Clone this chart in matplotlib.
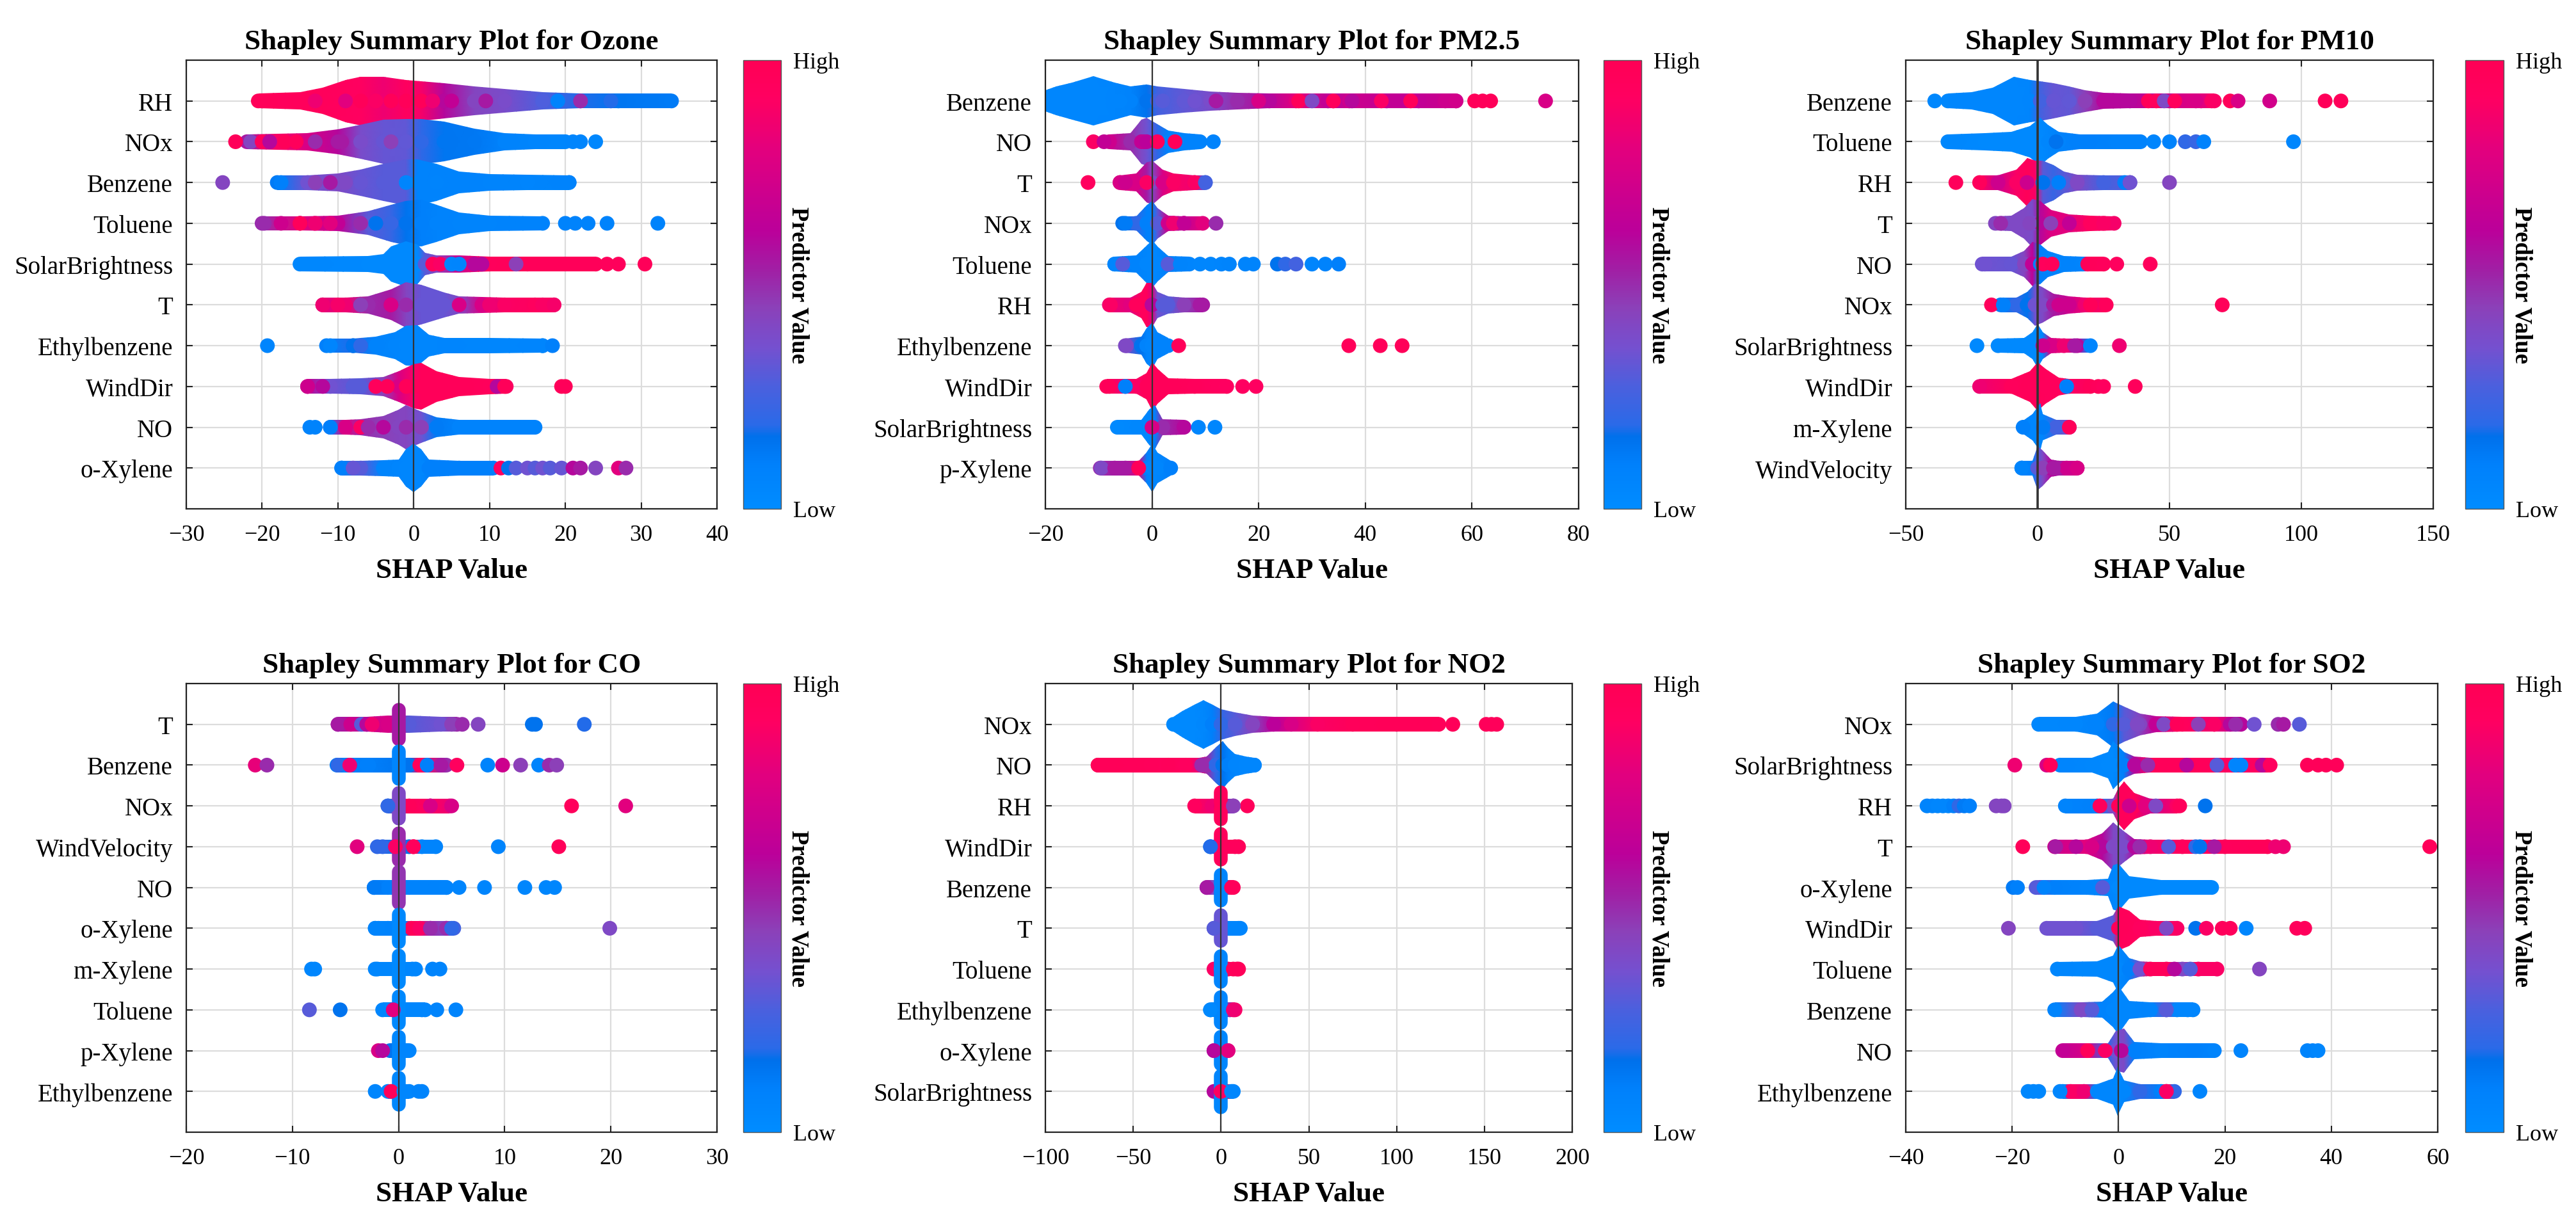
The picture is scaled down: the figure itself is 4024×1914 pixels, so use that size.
import matplotlib
matplotlib.use('Agg')
import matplotlib.pyplot as plt
import numpy as np
from matplotlib.cm import ScalarMappable
from matplotlib.colors import LinearSegmentedColormap
from matplotlib.patches import Polygon

plt.rcParams['font.family'] = ['Liberation Serif', 'DejaVu Serif']

# each row of a panel: x stops, half height of the swarm at the stop, colour value (0 low, 1 high)
# dots are the single points that stand out from the swarm
ozone_features = ['RH', 'NOx', 'Benzene', 'Toluene', 'SolarBrightness', 'T', 'Ethylbenzene', 'WindDir', 'NO', 'o-Xylene']
ozone_x = [
    [-20.5, -15, -12, -9, -7, -4, -1, 1, 4, 8, 12, 17, 22, 27, 34],
    [-22, -18, -14, -10, -7, -4, -1, 1, 4, 8, 12, 16, 20],
    [-18, -14, -10, -7, -4, -1, 0.5, 3, 6, 10, 15, 20.5],
    [-20, -15, -10, -6, -3, -1, 1, 3, 6, 10, 17],
    [-15, -6, -4, -3, -1, 0.5, 1.5, 3, 6, 10, 15, 24],
    [-12, -9, -6, -3, -1, 1, 4, 6, 9, 12, 16, 18.5],
    [-11.5, -8, -5, -2.5, -1, 0.5, 2, 4, 10, 17],
    [-14, -11, -7, -4, -2, 0, 1, 3, 6, 10, 12.2],
    [-11, -9, -7, -4, -2, -1, 1, 3, 6, 16],
    [-9.5, -7, -4, -2, -1, 0, 1, 2, 6, 10.5],
]
ozone_h = [
    [.165, .2, .3, .48, .55, .55, .48, .45, .4, .33, .27, .2, .17, .17, .165],
    [.165, .18, .2, .28, .38, .5, .52, .52, .45, .3, .2, .17, .165],
    [.165, .165, .2, .3, .42, .52, .52, .42, .25, .19, .17, .165],
    [.165, .165, .18, .27, .42, .5, .53, .42, .25, .18, .165],
    [.165, .18, .22, .4, .52, .45, .25, .2, .2, .165, .165, .165],
    [.165, .165, .2, .35, .52, .45, .28, .2, .18, .165, .165, .165],
    [.165, .165, .2, .3, .45, .47, .25, .18, .17, .165],
    [.165, .165, .18, .22, .35, .5, .53, .35, .22, .17, .165],
    [.165, .165, .18, .25, .4, .5, .35, .22, .17, .165],
    [.165, .165, .18, .2, .42, .55, .42, .2, .17, .165],
]
ozone_c = [
    [.97, .95, .95, .93, .92, .85, .93, .88, .6, .42, .38, .28, .18, .14, .12],
    [.55, .9, .75, .6, .38, .33, .32, .2, .14, .13, .08, .06, .05],
    [.12, .35, .4, .33, .3, .3, .08, .07, .08, .07, .06, .08],
    [.5, .8, .65, .3, .22, .15, .1, .08, .07, .07, .08],
    [.04, .03, .03, .03, .03, .03, .3, .42, .7, .95, .97, .97],
    [.8, .85, .5, .55, .42, .33, .33, .4, .75, .9, .93, .9],
    [.1, .18, .08, .06, .05, .05, .05, .06, .05, .06],
    [.65, .35, .3, .45, .75, .9, .97, .97, .97, .95, .9],
    [.2, .8, .5, .45, .42, .42, .35, .12, .08, .08],
    [.1, .3, .07, .06, .05, .05, .05, .1, .1, .1],
]
ozone_dots_x = [
    [-20, -17, -13, -9, -7, -5, -3, -1, 1, 2.5, 5, 9.5, 19, 22, 26],
    [-23.5, -21.5, -20, -19, -17, -15.5, -13, -10, -9.5, -3, 21, 22, 24],
    [-25.2, -17.5, -13, -11, -9, -1, 20.5],
    [-19.7, -17.5, -15, -13, -11, -7, -5, 20, 21.3, 23, 25.5, 32.2],
    [2.5, 3.5, 5, 6, 8, 9, 13.5, 25.5, 27, 30.5],
    [-12, -10, -7, -3, -1, 6, 10, 17, 18.5],
    [-19.3, -11, -8, -7, 17, 18.3],
    [-14, -12, -8, -5, -3.5, -1, 0, 1, 11, 12, 19.5, 20],
    [-13.7, -13, -11, -9, -7, -6, -4, -1, 1],
    [-9.5, -8, 11.5, 12.5, 13.5, 15, 16, 17, 18, 19.5, 21, 22, 24, 27, 28],
]
ozone_dots_c = [
    [.97, .95, .85, .8, .97, .9, .97, .97, .97, .85, .65, .55, .08, .5, .18],
    [.97, .42, .95, .6, .97, .95, .5, .55, .55, .45, .06, .06, .04],
    [.42, .1, .45, .55, .4, .06, .08],
    [.5, .7, .95, .85, .8, .5, .15, .08, .08, .08, .08, .08],
    [.95, .9, .05, .06, .6, .6, .45, .95, .95, .97],
    [.85, .88, .45, .75, .5, .75, .85, .9, .88],
    [.06, .06, .15, .2, .06, .1],
    [.7, .6, .3, .95, .97, .97, .97, .97, .6, .97, .97, .97],
    [.08, .08, .1, .75, .9, .5, .6, .5, .45],
    [.1, .33, .93, .15, .3, .35, .3, .35, .3, .33, .6, .55, .42, .8, .5],
]

pm25_features = ['Benzene', 'NO', 'T', 'NOx', 'Toluene', 'RH', 'Ethylbenzene', 'WindDir', 'SolarBrightness', 'p-Xylene']
pm25_x = [
    [-20, -18, -15, -11, -7, -4, -1, 1, 6, 11, 16, 22, 27, 34, 37, 44, 50, 57],
    [-8, -4, -2, -1, 1, 3, 6, 9],
    [-6, -3, -1, 0, 2, 4, 8, 10],
    [-5.5, -3, -1, 0, 1, 3, 6, 9.5],
    [-7, -3, -1, 0, 1, 3, 7],
    [-8, -4, -2, -1, 0, 1, 3, 6, 9.5],
    [-5, -2, -1, 0, 1, 3],
    [-8.5, -5, -3, -1, 0, 1, 3, 8, 14],
    [-6.5, -2, -0.5, 0.5, 2, 6],
    [-9.7, -5, -2.5, -1, 0, 1, 3.5],
]
pm25_h = [
    [.24, .33, .42, .56, .42, .33, .38, .33, .27, .22, .19, .165, .165, .165, .165, .165, .165, .165],
    [.165, .2, .5, .55, .4, .25, .2, .165],
    [.165, .2, .45, .5, .3, .2, .165, .165],
    [.165, .165, .4, .5, .35, .18, .165, .165],
    [.165, .2, .42, .55, .4, .18, .165],
    [.165, .165, .3, .5, .5, .3, .2, .165, .165],
    [.165, .2, .4, .52, .3, .17],
    [.165, .165, .165, .3, .55, .4, .18, .165, .165],
    [.165, .165, .4, .5, .18, .165],
    [.165, .165, .165, .35, .55, .35, .165],
]
pm25_c = [
    [.05, .05, .05, .05, .06, .08, .15, .25, .32, .38, .5, .6, .8, .6, .7, .65, .65, .7],
    [.7, .5, .4, .35, .2, .08, .08, .08],
    [.8, .75, .55, .4, .75, .9, .85, .25],
    [.15, .2, .1, .1, .3, .7, .65, .8],
    [.1, .08, .05, .05, .05, .1, .06],
    [.85, .8, .95, .95, .8, .35, .3, .45, .55],
    [.4, .15, .08, .06, .08, .08],
    [.95, .85, .9, .97, .97, .97, .97, .95, .92],
    [.03, .04, .05, .08, .5, .6],
    [.5, .55, .8, .1, .06, .05, .1],
]
pm25_dots_x = [
    [-16, -10, -6, 2, 8, 12, 20, 27.5, 30, 33, 34, 37.5, 43, 48.5, 55, 57, 60.5, 62, 63.5, 73.8],
    [-11, -9, -2, -1.5, -1, 1, 4.3, 11.5],
    [-12, -6, -5, -1, 8, 10],
    [-5, 4, 6, 12],
    [-7, -5.5, 3, 5.3, 9, 11, 13, 14.5, 17.5, 19, 23.5, 25, 27, 30, 32.5, 35],
    [-7.8, -3, 0, 2, 9],
    [-4.8, 5, 36.9, 42.8, 46.9],
    [-8, -5, 17, 19.5],
    [0, 8.7, 11.8],
    [-9.5, -7, -2.5],
]
pm25_dots_c = [
    [.05, .05, .06, .3, .35, .55, .75, .97, .4, .65, .95, .6, .9, .97, .7, .72, .97, .97, .97, .75],
    [.9, .65, .65, .65, .62, .95, .97, .08],
    [.93, .75, .7, .9, .9, .25],
    [.12, .85, .65, .5],
    [.06, .3, .3, .07, .05, .05, .06, .07, .07, .07, .15, .2, .25, .06, .08, .1],
    [.9, .95, .6, .3, .55],
    [.4, .97, .97, .97, .97],
    [.97, .1, .92, .92],
    [.75, .05, .05],
    [.4, .55, .97],
]

pm10_features = ['Benzene', 'Toluene', 'RH', 'T', 'NO', 'NOx', 'SolarBrightness', 'WindDir', 'm-Xylene', 'WindVelocity']
pm10_x = [
    [-34, -25, -17, -9, -3, 1, 6, 12, 18, 25, 35, 50, 62, 67],
    [-34, -20, -10, -3, 1, 4, 8, 16, 30, 39],
    [-22, -15, -8, -4, -1, 2, 6, 10, 15, 25, 35],
    [-16, -10, -5, -2, 1, 5, 12, 20, 29],
    [-21, -10, -5, -2, 1, 4, 10, 17, 19, 25],
    [-14, -8, -4, -1, 2, 6, 12, 18, 26],
    [-15, -5, -2, 0, 2, 5, 10, 15, 20],
    [-22, -10, -3, 0, 3, 8, 12, 20],
    [-5, -2, 1, 2, 7, 12],
    [-6, -2, 0, 2, 5, 8, 11, 15],
]
pm10_h = [
    [.165, .2, .3, .55, .48, .45, .4, .33, .25, .18, .165, .165, .165, .165],
    [.165, .2, .22, .35, .55, .38, .22, .165, .165, .165],
    [.165, .165, .3, .55, .5, .5, .4, .25, .18, .165, .165],
    [.165, .18, .35, .55, .5, .3, .2, .17, .165],
    [.165, .17, .3, .5, .45, .3, .18, .165, .165, .165],
    [.165, .17, .3, .48, .4, .25, .2, .165, .165],
    [.165, .17, .3, .5, .3, .18, .165, .165, .165],
    [.165, .165, .35, .55, .4, .2, .165, .165],
    [.165, .3, .55, .3, .165, .165],
    [.165, .165, .5, .4, .2, .165, .165, .165],
]
pm10_c = [
    [.04, .05, .05, .05, .06, .25, .33, .32, .45, .6, .6, .7, .8, .9],
    [.04, .03, .03, .03, .03, .05, .08, .1, .08, .08],
    [.95, .7, .9, .97, .9, .3, .22, .3, .4, .25, .3],
    [.42, .4, .4, .38, .6, .78, .8, .93, .88],
    [.35, .33, .42, .65, .1, .08, .08, .07, .97, .95],
    [.12, .2, .15, .35, .4, .55, .7, .85, .95],
    [.03, .03, .03, .03, .04, .75, .85, .6, .06],
    [.85, .95, .97, .97, .95, .95, .9, .97],
    [.07, .05, .05, .05, .25, .4],
    [.07, .1, .3, .4, .6, .55, .7, .72],
]
pm10_dots_x = [
    [-39, -31, 42, 45, 48, 52, 60, 66, 73, 76, 88, 109, 115],
    [7, 44, 50, 56, 60, 63, 97],
    [-31, -4, 2, 8, 33, 35, 50],
    [-14, -3, 5, 12, 25],
    [-20, 2, 5.5, 30, 42.7],
    [-17.5, -13, 8, 20, 70],
    [-23, 2, 14, 31],
    [11, 23, 25, 37],
    [-5.5, 2, 12],
    [-6, 2, 6, 15],
]
pm10_dots_c = [
    [.04, .05, .97, .95, .4, .95, .75, .9, .97, .75, .72, .97, .97],
    [.15, .06, .08, .2, .22, .08, .05],
    [.95, .7, .15, .1, .1, .35, .42],
    [.5, .42, .45, .65, .9],
    [.35, .95, .97, .93, .95],
    [.95, .1, .7, .97, .97],
    [.03, .7, .55, .85],
    [.1, .95, .93, .95],
    [.1, .12, .97],
    [.07, .45, .55, .75],
]

co_features = ['T', 'Benzene', 'NOx', 'WindVelocity', 'NO', 'o-Xylene', 'm-Xylene', 'Toluene', 'p-Xylene', 'Ethylbenzene']
co_x = [
    [-5.7, -3, -1, 1, 4, 5.5],
    [-5.8, -3, 1, 2, 4.5],
    [-1, 1, 3, 4.8],
    [-2, 1, 1.4, 2.2, 3.5],
    [-2.3, -1, 1, 4.5],
    [-2.2, -1, 0.5, 1.2, 2, 3, 4.5, 5.2],
    [-2.2, 1.6],
    [-1.5, 2.5],
    [-0.8, 1],
    [-1, 1],
]
co_h = [
    [.165, .165, .2, .2, .165, .165],
    [.165, .165, .165, .165, .165],
    [.165, .165, .165, .165],
    [.165, .165, .165, .165, .165],
    [.165, .165, .165, .165],
    [.165, .165, .165, .165, .165, .165, .165, .165],
    [.165, .165],
    [.165, .165],
    [.165, .165],
    [.165, .165],
]
co_c = [
    [.55, .7, .75, .3, .35, .5],
    [.12, .1, .15, .95, .5],
    [.2, .97, .9, .85],
    [.2, .15, .95, .07, .07],
    [.12, .1, .08, .07],
    [.07, .08, .1, .97, .9, .5, .4, .25],
    [.05, .05],
    [.05, .05],
    [.15, .06],
    [.05, .05],
]
co_spine_h = [.53, .5, .48, .5, .55, .5, .5, .5, .5, .5]
co_spine_c = [.55, .06, .4, .5, .48, .03, .03, .03, .04, .04]
co_dots_x = [
    [-5.7, -4.5, -3.5, -3, -2.5, 5, 6, 7.5, 12.6, 12.9, 17.5],
    [-13.5, -12.4, -5.7, -4.6, -2.8, 2.7, 4, 5.5, 8.4, 9.8, 11.5, 13.2, 14.2, 14.9],
    [-1, 3, 5, 16.3, 21.4],
    [-3.9, -1.5, -0.3, 1.4, 9.4, 15.1],
    [-2.3, 4.5, 5.7, 8.1, 11.9, 13.9, 14.7],
    [-2.2, -1.9, 3, 4.5, 5, 19.9],
    [-8.2, -7.9, -2, 1.3, 3.2, 3.9],
    [-8.4, -5.5, -0.5, 2.2, 3.6, 5.4],
    [-1.9, -1.5, 0.5],
    [-2.2, -0.7, 0.5, 1.9, 2.2],
]
co_dots_c = [
    [.55, .7, .3, .6, .85, .45, .5, .42, .15, .15, .18],
    [.82, .5, .2, .85, .1, .1, .55, .93, .07, .7, .45, .07, .5, .45],
    [.2, .75, .75, .95, .8],
    [.8, .2, .9, .95, .07, .97],
    [.12, .07, .06, .06, .05, .05, .05],
    [.07, .07, .5, .5, .2, .4],
    [.05, .05, .05, .05, .07, .07],
    [.3, .15, .8, .05, .07, .07],
    [.75, .6, .06],
    [.05, .97, .05, .07, .07],
]

no2_features = ['NOx', 'NO', 'RH', 'WindDir', 'Benzene', 'T', 'Toluene', 'Ethylbenzene', 'o-Xylene', 'SolarBrightness']
no2_x = [
    [-27, -22, -15, -10, -5, 0, 8, 18, 30, 40, 55, 75, 100, 124],
    [-70, -40, -20, -12, -8, -3, 1, 4, 8, 14, 19],
    [-15, -5, 0, 7],
    [-6, -2, 0, 10],
    [-8, -4, 0, 7],
    [-4, 0, 4, 11],
    [-4, 0, 4, 10],
    [-6, -2, 2, 5, 8],
    [-4, 0, 4],
    [-4, 0, 3, 7],
]
no2_h = [
    [.165, .3, .45, .55, .45, .35, .27, .2, .165, .165, .165, .165, .165, .165],
    [.165, .165, .165, .165, .2, .4, .55, .4, .25, .2, .165],
    [.165, .165, .165, .165],
    [.165, .165, .165, .165],
    [.165, .165, .165, .165],
    [.165, .165, .165, .165],
    [.165, .165, .165, .165],
    [.165, .165, .165, .165, .165],
    [.165, .165, .165],
    [.165, .165, .165, .165],
]
no2_c = [
    [.03, .03, .03, .04, .1, .2, .3, .42, .62, .75, .9, .96, .98, .97],
    [.98, .96, .93, .85, .5, .2, .15, .1, .06, .05, .05],
    [.93, .85, .6, .4],
    [.15, .2, .97, .97],
    [.55, .4, .05, .96],
    [.3, .3, .06, .06],
    [.9, .06, .95, .97],
    [.03, .04, .06, .5, .9],
    [.6, .05, .8],
    [.6, .9, .97, .05],
]
no2_spine_h = [0, 0, .5, .48, .48, .48, .48, .48, .5, .55]
no2_spine_c = [.1, .1, .95, .95, .06, .33, .06, .06, .05, .05]
no2_dots_x = [
    [132, 151, 154, 157],
    [-70, -30, -11, 19],
    [15, 7],
    [-6, 8],
    [-8, 6],
    [-4, 10],
    [7, 9],
    [-6, 7],
    [-4, 4],
    [0, 6],
]
no2_dots_c = [
    [.97, .96, .96, .96],
    [.98, .96, .5, .05],
    [.96, .45],
    [.18, .95],
    [.55, .96],
    [.3, .06],
    [.97, .97],
    [.03, .85],
    [.6, .8],
    [.92, .05],
]

so2_features = ['NOx', 'SolarBrightness', 'RH', 'T', 'o-Xylene', 'WindDir', 'Toluene', 'Benzene', 'NO', 'Ethylbenzene']
so2_x = [
    [-15, -8, -4, -1, 1, 4, 7, 12, 18, 23],
    [-11, -5, -2, -1, 1, 3, 6, 12, 18, 22, 28],
    [-10, -4, -1, 0, 1, 3, 6, 11],
    [-12, -6, -3, -1, 1, 3, 6, 12, 20, 28],
    [-15, -12, -6, -2, -1, 0, 2, 8, 17.5],
    [-13.5, -8, -4, -1, 0, 2, 4, 7, 11],
    [-11.5, -4, -1, 0, 2, 4, 6, 9, 12, 15, 18.5],
    [-12, -7, -3, -1, 0, 2, 6, 9, 11, 14],
    [-10.5, -6, -2, -0.5, 1, 3, 8, 14, 18],
    [-10.5, -9, -6.5, -4, -1, -0.2, 1, 4, 8, 9, 10.5],
]
so2_h = [
    [.165, .165, .25, .52, .4, .25, .18, .165, .165, .165],
    [.165, .17, .3, .55, .3, .2, .165, .165, .165, .165, .165],
    [.165, .165, .165, .4, .55, .3, .165, .165],
    [.165, .165, .3, .55, .35, .17, .165, .165, .165, .165],
    [.165, .165, .165, .2, .5, .55, .25, .17, .165],
    [.165, .165, .17, .3, .5, .4, .2, .165, .165],
    [.165, .17, .3, .55, .25, .17, .165, .165, .165, .165, .165],
    [.165, .165, .18, .4, .55, .2, .165, .165, .165, .165],
    [.165, .165, .17, .45, .5, .2, .165, .165, .165],
    [.165, .165, .165, .17, .3, .55, .25, .165, .165, .165, .165],
]
so2_c = [
    [.04, .05, .08, .12, .3, .42, .65, .95, .85, .6],
    [.06, .04, .03, .03, .1, .6, .97, .97, .96, .9, .95],
    [.07, .1, .4, .97, .97, .96, .7, .9],
    [.7, .8, .6, .4, .38, .6, .85, .95, .95, .97],
    [.3, .1, .07, .07, .05, .03, .03, .03, .03],
    [.35, .35, .3, .3, .97, .96, .93, .9, .9],
    [.05, .04, .04, .04, .1, .35, .97, .97, .4, .9, .9],
    [.07, .4, .08, .05, .05, .05, .07, .3, .05, .05],
    [.65, .75, .2, .35, .4, .1, .07, .1, .07],
    [.04, .9, .85, .05, .05, .04, .05, .2, .1, .9, .2],
]
so2_dots_x = [
    [-1, 1, 3.5, 8.5, 11, 15, 18, 21, 22, 25.5, 30, 31, 34],
    [-19.5, -13.5, -12.8, 5.5, 12.8, 18.5, 22, 23, 27, 28.5, 35.5, 37.5, 39, 41],
    [-36, -35, -34, -33, -32, -31, -30, -29, -28, -23, -22, -21.5, -3.5, 2, 5, 7, 11.5, 16.3],
    [-18, -11.8, -8, -5, 4, 9.4, 14.5, 15.3, 18, 29.5, 31, 58.5],
    [-19.8, -19, -15.5, -14, -3],
    [-20.7, 0.5, 9, 14.5, 16.5, 19.5, 21, 24, 33.5, 35],
    [10.5, 13.5, 26.5],
    [-7, -5, 9, 13],
    [-5.8, -2.5, 0.5, 23, 35.5, 36.5, 37.5],
    [-17, -16, -15, -11, 9, 15.3],
]
so2_dots_c = [
    [.2, .3, .4, .4, .97, .45, .9, .6, .5, .35, .5, .55, .3],
    [.85, .75, .97, .5, .6, .3, .06, .06, .6, .93, .97, .97, .97, .97],
    [.07, .07, .05, .05, .05, .1, .2, .12, .1, .42, .42, .42, .95, .7, .8, .4, .95, .15],
    [.97, .55, .6, .75, .5, .3, .2, .15, .55, .85, .85, .97],
    [.12, .1, .3, .08, .3],
    [.42, .97, .4, .15, .9, .95, .95, .05, .95, .95],
    [.6, .3, .42],
    [.4, .3, .3, .05],
    [.97, .9, .6, .07, .07, .07, .05],
    [.04, .04, .04, .05, .9, .06],
]

# colorbar stops
cbar_pos = [0, .10, .16, .185, .27, .36, .45, .53, .62, .79, .92, 1]
cbar_col = ['#008cff', '#0080fb', '#0070eb', '#2a6ae8', '#4a60de', '#7550cf', '#8c40b8',
            '#a020a5', '#bb009a', '#e00080', '#ff0060', '#ff0055']
cmap = LinearSegmentedColormap.from_list('shap', list(zip(cbar_pos, cbar_col)))

W, H = 4024, 1915
fig = plt.figure(figsize=(W / 100, H / 100), dpi=100, facecolor='white')


def px_axes(left, right, top, bottom):
    return fig.add_axes([left / W, 1 - bottom / H, (right - left) / W, (bottom - top) / H])


def draw_panel(box, cbox, title, features, xlim, xstep, xs, hs, cs, dots_x, dots_c,
               spine_h=None, spine_c=None, zero_lw=1.6):
    ax = px_axes(*box)
    xticks = np.arange(xlim[0], xlim[1] + xstep / 2, xstep)
    ax.grid(True, color='#dcdcdc', lw=1.6)
    ax.set_axisbelow(True)
    for i in range(len(features)):
        y = i + 1
        x = np.array(xs[i], dtype=float)
        h = np.array(hs[i], dtype=float) * 1.08
        c = np.array(cs[i], dtype=float)
        # swarm outline filled with a smooth colour run along x
        mesh = ax.pcolormesh(x, [y - .7, y + .7], [c, c], shading='gouraud', cmap=cmap,
                             vmin=0, vmax=1, zorder=2 + i * 0.01, rasterized=True)
        verts = np.concatenate([np.c_[x, y - h], np.c_[x[::-1], (y + h)[::-1]]])
        mesh.set_clip_path(Polygon(verts, transform=ax.transData))
        ax.scatter(x, np.full(len(x), y), c=c, s=274, cmap=cmap, vmin=0, vmax=1,
                   linewidths=0, zorder=2.2 + i * 0.01)
        if spine_h is not None and spine_h[i] > 0:
            ax.plot([0, 0], [y - spine_h[i] + .168, y + spine_h[i] - .168], color=cmap(spine_c[i]),
                    lw=15.5, solid_capstyle='round', zorder=2.3 + i * 0.01)
        ax.scatter(dots_x[i], np.full(len(dots_x[i]), y), c=dots_c[i], s=274, cmap=cmap,
                   vmin=0, vmax=1, linewidths=0, zorder=2.4 + i * 0.01)
    ax.axvline(0, color='#333333', lw=zero_lw, zorder=4)
    ax.set_xlim(xlim)
    ax.set_ylim(11, 0)
    ax.set_xticks(xticks)
    ax.set_yticks(range(1, 11))
    ax.set_yticklabels(features, fontsize=28)
    ax.tick_params(axis='x', labelsize=26, direction='in', top=True, length=7, width=1.5, pad=17, color='#222222')
    ax.tick_params(axis='y', direction='in', right=True, length=7, width=1.5, pad=15, color='#222222')
    for s in ax.spines.values():
        s.set_linewidth(1.6)
        s.set_color('#222222')
    ax.set_title(title, fontsize=32.5, fontweight='bold', pad=13)
    ax.set_xlabel('SHAP Value', fontsize=32.5, fontweight='bold', labelpad=14)

    cax = px_axes(*cbox)
    cb = fig.colorbar(ScalarMappable(cmap=cmap), cax=cax, ticks=[0, 1])
    cb.ax.set_yticklabels(['Low', 'High'], fontsize=26)
    cb.ax.tick_params(length=0, pad=14)
    cb.outline.set_linewidth(1)
    cb.outline.set_edgecolor('#555555')
    cax.text(1.46, .5, 'Predictor Value', transform=cax.transAxes, rotation=-90,
             ha='center', va='center', fontsize=26.5, fontweight='bold')


top_row = (95, 796)
bottom_row = (1069, 1770)

draw_panel((291, 1120, *top_row), (1161, 1220, *top_row), 'Shapley Summary Plot for Ozone', ozone_features,
           (-30, 40), 10, ozone_x, ozone_h, ozone_c, ozone_dots_x, ozone_dots_c)
draw_panel((1633, 2466, *top_row), (2505, 2564, *top_row), 'Shapley Summary Plot for PM2.5', pm25_features,
           (-20, 80), 20, pm25_x, pm25_h, pm25_c, pm25_dots_x, pm25_dots_c)
draw_panel((2977, 3801, *top_row), (3851, 3911, *top_row), 'Shapley Summary Plot for PM10', pm10_features,
           (-50, 150), 50, pm10_x, pm10_h, pm10_c, pm10_dots_x, pm10_dots_c, zero_lw=2.6)
draw_panel((291, 1120, *bottom_row), (1161, 1220, *bottom_row), 'Shapley Summary Plot for CO', co_features,
           (-20, 30), 10, co_x, co_h, co_c, co_dots_x, co_dots_c, co_spine_h, co_spine_c)
draw_panel((1633, 2456, *bottom_row), (2505, 2564, *bottom_row), 'Shapley Summary Plot for NO2', no2_features,
           (-100, 200), 50, no2_x, no2_h, no2_c, no2_dots_x, no2_dots_c, no2_spine_h, no2_spine_c)
draw_panel((2977, 3808, *bottom_row), (3851, 3911, *bottom_row), 'Shapley Summary Plot for SO2', so2_features,
           (-40, 60), 20, so2_x, so2_h, so2_c, so2_dots_x, so2_dots_c)

fig.savefig('out.png', dpi=100)
